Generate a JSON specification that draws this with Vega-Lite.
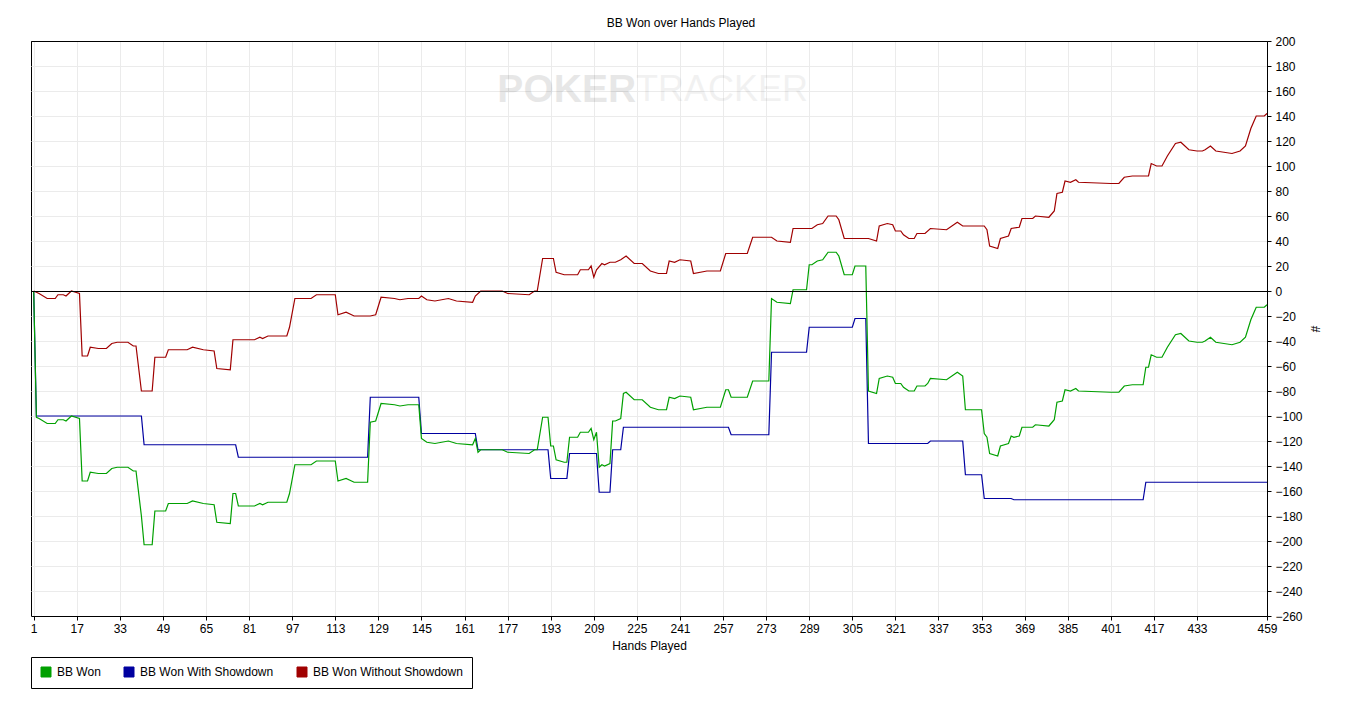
{
  "$schema": "https://vega.github.io/schema/vega-lite/v6.json",
  "width": 1236,
  "height": 575,
  "autosize": {"type": "none"},
  "padding": {"left": 31, "top": 41, "right": 84, "bottom": 91},
  "background": "white",
  "title": {
    "text": "BB Won over Hands Played",
    "fontSize": 12,
    "fontWeight": "normal",
    "font": "Liberation Sans",
    "color": "black",
    "anchor": "middle",
    "dx": 32,
    "offset": 5
  },
  "datasets": {
    "bb": [
      {"hand": 1, "series": "BB Won Without Showdown", "bb": 0},
      {"hand": 3, "series": "BB Won Without Showdown", "bb": -2},
      {"hand": 6, "series": "BB Won Without Showdown", "bb": -6},
      {"hand": 9, "series": "BB Won Without Showdown", "bb": -6},
      {"hand": 10, "series": "BB Won Without Showdown", "bb": -3},
      {"hand": 12, "series": "BB Won Without Showdown", "bb": -3},
      {"hand": 13, "series": "BB Won Without Showdown", "bb": -4},
      {"hand": 15, "series": "BB Won Without Showdown", "bb": 0},
      {"hand": 18, "series": "BB Won Without Showdown", "bb": -2},
      {"hand": 19, "series": "BB Won Without Showdown", "bb": -52},
      {"hand": 21, "series": "BB Won Without Showdown", "bb": -52},
      {"hand": 22, "series": "BB Won Without Showdown", "bb": -45},
      {"hand": 25, "series": "BB Won Without Showdown", "bb": -46},
      {"hand": 28, "series": "BB Won Without Showdown", "bb": -46},
      {"hand": 30, "series": "BB Won Without Showdown", "bb": -42},
      {"hand": 32, "series": "BB Won Without Showdown", "bb": -41},
      {"hand": 36, "series": "BB Won Without Showdown", "bb": -41},
      {"hand": 38, "series": "BB Won Without Showdown", "bb": -44},
      {"hand": 39, "series": "BB Won Without Showdown", "bb": -44},
      {"hand": 41, "series": "BB Won Without Showdown", "bb": -80},
      {"hand": 45, "series": "BB Won Without Showdown", "bb": -80},
      {"hand": 46, "series": "BB Won Without Showdown", "bb": -53},
      {"hand": 50, "series": "BB Won Without Showdown", "bb": -53},
      {"hand": 51, "series": "BB Won Without Showdown", "bb": -47},
      {"hand": 58, "series": "BB Won Without Showdown", "bb": -47},
      {"hand": 60, "series": "BB Won Without Showdown", "bb": -45},
      {"hand": 64, "series": "BB Won Without Showdown", "bb": -47},
      {"hand": 68, "series": "BB Won Without Showdown", "bb": -48},
      {"hand": 69, "series": "BB Won Without Showdown", "bb": -62},
      {"hand": 74, "series": "BB Won Without Showdown", "bb": -63},
      {"hand": 75, "series": "BB Won Without Showdown", "bb": -39},
      {"hand": 83, "series": "BB Won Without Showdown", "bb": -39},
      {"hand": 85, "series": "BB Won Without Showdown", "bb": -37},
      {"hand": 86, "series": "BB Won Without Showdown", "bb": -38},
      {"hand": 88, "series": "BB Won Without Showdown", "bb": -36},
      {"hand": 95, "series": "BB Won Without Showdown", "bb": -36},
      {"hand": 96, "series": "BB Won Without Showdown", "bb": -29},
      {"hand": 98, "series": "BB Won Without Showdown", "bb": -6},
      {"hand": 104, "series": "BB Won Without Showdown", "bb": -6},
      {"hand": 106, "series": "BB Won Without Showdown", "bb": -3},
      {"hand": 113, "series": "BB Won Without Showdown", "bb": -3},
      {"hand": 114, "series": "BB Won Without Showdown", "bb": -19},
      {"hand": 117, "series": "BB Won Without Showdown", "bb": -17},
      {"hand": 120, "series": "BB Won Without Showdown", "bb": -20},
      {"hand": 126, "series": "BB Won Without Showdown", "bb": -20},
      {"hand": 128, "series": "BB Won Without Showdown", "bb": -19},
      {"hand": 130, "series": "BB Won Without Showdown", "bb": -5},
      {"hand": 135, "series": "BB Won Without Showdown", "bb": -6},
      {"hand": 137, "series": "BB Won Without Showdown", "bb": -7},
      {"hand": 140, "series": "BB Won Without Showdown", "bb": -6},
      {"hand": 144, "series": "BB Won Without Showdown", "bb": -6},
      {"hand": 145, "series": "BB Won Without Showdown", "bb": -4},
      {"hand": 147, "series": "BB Won Without Showdown", "bb": -7},
      {"hand": 150, "series": "BB Won Without Showdown", "bb": -8},
      {"hand": 155, "series": "BB Won Without Showdown", "bb": -6},
      {"hand": 158, "series": "BB Won Without Showdown", "bb": -8},
      {"hand": 164, "series": "BB Won Without Showdown", "bb": -9},
      {"hand": 165, "series": "BB Won Without Showdown", "bb": -4},
      {"hand": 167, "series": "BB Won Without Showdown", "bb": 0},
      {"hand": 175, "series": "BB Won Without Showdown", "bb": 0},
      {"hand": 177, "series": "BB Won Without Showdown", "bb": -2},
      {"hand": 185, "series": "BB Won Without Showdown", "bb": -3},
      {"hand": 187, "series": "BB Won Without Showdown", "bb": 0},
      {"hand": 188, "series": "BB Won Without Showdown", "bb": 0},
      {"hand": 190, "series": "BB Won Without Showdown", "bb": 26},
      {"hand": 194, "series": "BB Won Without Showdown", "bb": 26},
      {"hand": 195, "series": "BB Won Without Showdown", "bb": 15},
      {"hand": 198, "series": "BB Won Without Showdown", "bb": 13},
      {"hand": 203, "series": "BB Won Without Showdown", "bb": 13},
      {"hand": 204, "series": "BB Won Without Showdown", "bb": 17},
      {"hand": 207, "series": "BB Won Without Showdown", "bb": 17},
      {"hand": 208, "series": "BB Won Without Showdown", "bb": 20},
      {"hand": 209, "series": "BB Won Without Showdown", "bb": 11},
      {"hand": 210, "series": "BB Won Without Showdown", "bb": 17},
      {"hand": 212, "series": "BB Won Without Showdown", "bb": 22},
      {"hand": 213, "series": "BB Won Without Showdown", "bb": 21},
      {"hand": 215, "series": "BB Won Without Showdown", "bb": 23},
      {"hand": 217, "series": "BB Won Without Showdown", "bb": 23},
      {"hand": 219, "series": "BB Won Without Showdown", "bb": 25},
      {"hand": 221, "series": "BB Won Without Showdown", "bb": 28},
      {"hand": 224, "series": "BB Won Without Showdown", "bb": 22},
      {"hand": 227, "series": "BB Won Without Showdown", "bb": 22},
      {"hand": 230, "series": "BB Won Without Showdown", "bb": 16},
      {"hand": 233, "series": "BB Won Without Showdown", "bb": 14},
      {"hand": 236, "series": "BB Won Without Showdown", "bb": 14},
      {"hand": 237, "series": "BB Won Without Showdown", "bb": 24},
      {"hand": 239, "series": "BB Won Without Showdown", "bb": 23},
      {"hand": 241, "series": "BB Won Without Showdown", "bb": 25},
      {"hand": 245, "series": "BB Won Without Showdown", "bb": 24},
      {"hand": 246, "series": "BB Won Without Showdown", "bb": 14},
      {"hand": 251, "series": "BB Won Without Showdown", "bb": 16},
      {"hand": 256, "series": "BB Won Without Showdown", "bb": 16},
      {"hand": 258, "series": "BB Won Without Showdown", "bb": 30},
      {"hand": 266, "series": "BB Won Without Showdown", "bb": 30},
      {"hand": 268, "series": "BB Won Without Showdown", "bb": 43},
      {"hand": 275, "series": "BB Won Without Showdown", "bb": 43},
      {"hand": 277, "series": "BB Won Without Showdown", "bb": 40},
      {"hand": 282, "series": "BB Won Without Showdown", "bb": 39},
      {"hand": 283, "series": "BB Won Without Showdown", "bb": 50},
      {"hand": 290, "series": "BB Won Without Showdown", "bb": 50},
      {"hand": 292, "series": "BB Won Without Showdown", "bb": 53},
      {"hand": 294, "series": "BB Won Without Showdown", "bb": 54},
      {"hand": 296, "series": "BB Won Without Showdown", "bb": 60},
      {"hand": 299, "series": "BB Won Without Showdown", "bb": 60},
      {"hand": 300, "series": "BB Won Without Showdown", "bb": 57},
      {"hand": 302, "series": "BB Won Without Showdown", "bb": 42},
      {"hand": 311, "series": "BB Won Without Showdown", "bb": 42},
      {"hand": 314, "series": "BB Won Without Showdown", "bb": 40},
      {"hand": 315, "series": "BB Won Without Showdown", "bb": 52},
      {"hand": 318, "series": "BB Won Without Showdown", "bb": 54},
      {"hand": 320, "series": "BB Won Without Showdown", "bb": 53},
      {"hand": 321, "series": "BB Won Without Showdown", "bb": 48},
      {"hand": 323, "series": "BB Won Without Showdown", "bb": 48},
      {"hand": 324, "series": "BB Won Without Showdown", "bb": 45},
      {"hand": 326, "series": "BB Won Without Showdown", "bb": 42},
      {"hand": 328, "series": "BB Won Without Showdown", "bb": 42},
      {"hand": 329, "series": "BB Won Without Showdown", "bb": 46},
      {"hand": 332, "series": "BB Won Without Showdown", "bb": 46},
      {"hand": 334, "series": "BB Won Without Showdown", "bb": 50},
      {"hand": 340, "series": "BB Won Without Showdown", "bb": 49},
      {"hand": 344, "series": "BB Won Without Showdown", "bb": 55},
      {"hand": 346, "series": "BB Won Without Showdown", "bb": 52},
      {"hand": 354, "series": "BB Won Without Showdown", "bb": 52},
      {"hand": 355, "series": "BB Won Without Showdown", "bb": 49},
      {"hand": 356, "series": "BB Won Without Showdown", "bb": 36},
      {"hand": 359, "series": "BB Won Without Showdown", "bb": 34},
      {"hand": 360, "series": "BB Won Without Showdown", "bb": 42},
      {"hand": 363, "series": "BB Won Without Showdown", "bb": 44},
      {"hand": 364, "series": "BB Won Without Showdown", "bb": 50},
      {"hand": 367, "series": "BB Won Without Showdown", "bb": 51},
      {"hand": 368, "series": "BB Won Without Showdown", "bb": 58},
      {"hand": 372, "series": "BB Won Without Showdown", "bb": 58},
      {"hand": 373, "series": "BB Won Without Showdown", "bb": 60},
      {"hand": 378, "series": "BB Won Without Showdown", "bb": 59},
      {"hand": 380, "series": "BB Won Without Showdown", "bb": 64},
      {"hand": 381, "series": "BB Won Without Showdown", "bb": 78},
      {"hand": 383, "series": "BB Won Without Showdown", "bb": 79},
      {"hand": 384, "series": "BB Won Without Showdown", "bb": 88},
      {"hand": 386, "series": "BB Won Without Showdown", "bb": 87},
      {"hand": 388, "series": "BB Won Without Showdown", "bb": 89},
      {"hand": 389, "series": "BB Won Without Showdown", "bb": 87},
      {"hand": 401, "series": "BB Won Without Showdown", "bb": 86},
      {"hand": 404, "series": "BB Won Without Showdown", "bb": 86},
      {"hand": 406, "series": "BB Won Without Showdown", "bb": 91},
      {"hand": 409, "series": "BB Won Without Showdown", "bb": 92},
      {"hand": 415, "series": "BB Won Without Showdown", "bb": 92},
      {"hand": 416, "series": "BB Won Without Showdown", "bb": 102},
      {"hand": 418, "series": "BB Won Without Showdown", "bb": 100},
      {"hand": 420, "series": "BB Won Without Showdown", "bb": 100},
      {"hand": 422, "series": "BB Won Without Showdown", "bb": 108},
      {"hand": 425, "series": "BB Won Without Showdown", "bb": 118},
      {"hand": 427, "series": "BB Won Without Showdown", "bb": 119},
      {"hand": 430, "series": "BB Won Without Showdown", "bb": 113},
      {"hand": 433, "series": "BB Won Without Showdown", "bb": 112},
      {"hand": 435, "series": "BB Won Without Showdown", "bb": 112},
      {"hand": 436, "series": "BB Won Without Showdown", "bb": 113},
      {"hand": 438, "series": "BB Won Without Showdown", "bb": 116},
      {"hand": 440, "series": "BB Won Without Showdown", "bb": 112},
      {"hand": 443, "series": "BB Won Without Showdown", "bb": 111},
      {"hand": 446, "series": "BB Won Without Showdown", "bb": 110},
      {"hand": 449, "series": "BB Won Without Showdown", "bb": 112},
      {"hand": 451, "series": "BB Won Without Showdown", "bb": 116},
      {"hand": 453, "series": "BB Won Without Showdown", "bb": 130},
      {"hand": 454, "series": "BB Won Without Showdown", "bb": 135},
      {"hand": 455, "series": "BB Won Without Showdown", "bb": 140},
      {"hand": 458, "series": "BB Won Without Showdown", "bb": 140},
      {"hand": 459, "series": "BB Won Without Showdown", "bb": 142},

      {"hand": 1, "series": "BB Won With Showdown", "bb": 0},
      {"hand": 2, "series": "BB Won With Showdown", "bb": -100},
      {"hand": 41, "series": "BB Won With Showdown", "bb": -100},
      {"hand": 42, "series": "BB Won With Showdown", "bb": -123},
      {"hand": 76, "series": "BB Won With Showdown", "bb": -123},
      {"hand": 77, "series": "BB Won With Showdown", "bb": -133},
      {"hand": 125, "series": "BB Won With Showdown", "bb": -133},
      {"hand": 126, "series": "BB Won With Showdown", "bb": -85},
      {"hand": 144, "series": "BB Won With Showdown", "bb": -85},
      {"hand": 145, "series": "BB Won With Showdown", "bb": -114},
      {"hand": 165, "series": "BB Won With Showdown", "bb": -114},
      {"hand": 166, "series": "BB Won With Showdown", "bb": -127},
      {"hand": 192, "series": "BB Won With Showdown", "bb": -127},
      {"hand": 193, "series": "BB Won With Showdown", "bb": -150},
      {"hand": 199, "series": "BB Won With Showdown", "bb": -150},
      {"hand": 200, "series": "BB Won With Showdown", "bb": -130},
      {"hand": 210, "series": "BB Won With Showdown", "bb": -130},
      {"hand": 211, "series": "BB Won With Showdown", "bb": -161},
      {"hand": 215, "series": "BB Won With Showdown", "bb": -161},
      {"hand": 216, "series": "BB Won With Showdown", "bb": -127},
      {"hand": 219, "series": "BB Won With Showdown", "bb": -127},
      {"hand": 220, "series": "BB Won With Showdown", "bb": -109},
      {"hand": 259, "series": "BB Won With Showdown", "bb": -109},
      {"hand": 260, "series": "BB Won With Showdown", "bb": -115},
      {"hand": 274, "series": "BB Won With Showdown", "bb": -115},
      {"hand": 275, "series": "BB Won With Showdown", "bb": -49},
      {"hand": 288, "series": "BB Won With Showdown", "bb": -49},
      {"hand": 289, "series": "BB Won With Showdown", "bb": -29},
      {"hand": 305, "series": "BB Won With Showdown", "bb": -29},
      {"hand": 306, "series": "BB Won With Showdown", "bb": -22},
      {"hand": 310, "series": "BB Won With Showdown", "bb": -22},
      {"hand": 311, "series": "BB Won With Showdown", "bb": -122},
      {"hand": 333, "series": "BB Won With Showdown", "bb": -122},
      {"hand": 334, "series": "BB Won With Showdown", "bb": -120},
      {"hand": 346, "series": "BB Won With Showdown", "bb": -120},
      {"hand": 347, "series": "BB Won With Showdown", "bb": -147},
      {"hand": 353, "series": "BB Won With Showdown", "bb": -147},
      {"hand": 354, "series": "BB Won With Showdown", "bb": -166},
      {"hand": 364, "series": "BB Won With Showdown", "bb": -166},
      {"hand": 365, "series": "BB Won With Showdown", "bb": -167},
      {"hand": 413, "series": "BB Won With Showdown", "bb": -167},
      {"hand": 414, "series": "BB Won With Showdown", "bb": -153},
      {"hand": 459, "series": "BB Won With Showdown", "bb": -153},

      {"hand": 1, "series": "BB Won", "bb": 0},
      {"hand": 2, "series": "BB Won", "bb": -101},
      {"hand": 3, "series": "BB Won", "bb": -102},
      {"hand": 6, "series": "BB Won", "bb": -106},
      {"hand": 9, "series": "BB Won", "bb": -106},
      {"hand": 10, "series": "BB Won", "bb": -103},
      {"hand": 12, "series": "BB Won", "bb": -103},
      {"hand": 13, "series": "BB Won", "bb": -104},
      {"hand": 15, "series": "BB Won", "bb": -100},
      {"hand": 18, "series": "BB Won", "bb": -102},
      {"hand": 19, "series": "BB Won", "bb": -152},
      {"hand": 21, "series": "BB Won", "bb": -152},
      {"hand": 22, "series": "BB Won", "bb": -145},
      {"hand": 25, "series": "BB Won", "bb": -146},
      {"hand": 28, "series": "BB Won", "bb": -146},
      {"hand": 30, "series": "BB Won", "bb": -142},
      {"hand": 32, "series": "BB Won", "bb": -141},
      {"hand": 36, "series": "BB Won", "bb": -141},
      {"hand": 38, "series": "BB Won", "bb": -144},
      {"hand": 39, "series": "BB Won", "bb": -144},
      {"hand": 41, "series": "BB Won", "bb": -180},
      {"hand": 42, "series": "BB Won", "bb": -203},
      {"hand": 45, "series": "BB Won", "bb": -203},
      {"hand": 46, "series": "BB Won", "bb": -176},
      {"hand": 50, "series": "BB Won", "bb": -176},
      {"hand": 51, "series": "BB Won", "bb": -170},
      {"hand": 58, "series": "BB Won", "bb": -170},
      {"hand": 60, "series": "BB Won", "bb": -168},
      {"hand": 64, "series": "BB Won", "bb": -170},
      {"hand": 68, "series": "BB Won", "bb": -171},
      {"hand": 69, "series": "BB Won", "bb": -185},
      {"hand": 74, "series": "BB Won", "bb": -186},
      {"hand": 75, "series": "BB Won", "bb": -162},
      {"hand": 76, "series": "BB Won", "bb": -162},
      {"hand": 77, "series": "BB Won", "bb": -172},
      {"hand": 83, "series": "BB Won", "bb": -172},
      {"hand": 85, "series": "BB Won", "bb": -170},
      {"hand": 86, "series": "BB Won", "bb": -171},
      {"hand": 88, "series": "BB Won", "bb": -169},
      {"hand": 95, "series": "BB Won", "bb": -169},
      {"hand": 96, "series": "BB Won", "bb": -162},
      {"hand": 98, "series": "BB Won", "bb": -139},
      {"hand": 104, "series": "BB Won", "bb": -139},
      {"hand": 106, "series": "BB Won", "bb": -136},
      {"hand": 113, "series": "BB Won", "bb": -136},
      {"hand": 114, "series": "BB Won", "bb": -152},
      {"hand": 117, "series": "BB Won", "bb": -150},
      {"hand": 120, "series": "BB Won", "bb": -153},
      {"hand": 125, "series": "BB Won", "bb": -153},
      {"hand": 126, "series": "BB Won", "bb": -105},
      {"hand": 128, "series": "BB Won", "bb": -104},
      {"hand": 130, "series": "BB Won", "bb": -90},
      {"hand": 135, "series": "BB Won", "bb": -91},
      {"hand": 137, "series": "BB Won", "bb": -92},
      {"hand": 140, "series": "BB Won", "bb": -91},
      {"hand": 144, "series": "BB Won", "bb": -91},
      {"hand": 145, "series": "BB Won", "bb": -118},
      {"hand": 147, "series": "BB Won", "bb": -121},
      {"hand": 150, "series": "BB Won", "bb": -122},
      {"hand": 155, "series": "BB Won", "bb": -120},
      {"hand": 158, "series": "BB Won", "bb": -122},
      {"hand": 164, "series": "BB Won", "bb": -123},
      {"hand": 165, "series": "BB Won", "bb": -118},
      {"hand": 166, "series": "BB Won", "bb": -129},
      {"hand": 167, "series": "BB Won", "bb": -127},
      {"hand": 175, "series": "BB Won", "bb": -127},
      {"hand": 177, "series": "BB Won", "bb": -129},
      {"hand": 185, "series": "BB Won", "bb": -130},
      {"hand": 187, "series": "BB Won", "bb": -127},
      {"hand": 188, "series": "BB Won", "bb": -127},
      {"hand": 190, "series": "BB Won", "bb": -101},
      {"hand": 192, "series": "BB Won", "bb": -101},
      {"hand": 193, "series": "BB Won", "bb": -124},
      {"hand": 194, "series": "BB Won", "bb": -124},
      {"hand": 195, "series": "BB Won", "bb": -135},
      {"hand": 198, "series": "BB Won", "bb": -137},
      {"hand": 199, "series": "BB Won", "bb": -137},
      {"hand": 200, "series": "BB Won", "bb": -117},
      {"hand": 203, "series": "BB Won", "bb": -117},
      {"hand": 204, "series": "BB Won", "bb": -113},
      {"hand": 207, "series": "BB Won", "bb": -113},
      {"hand": 208, "series": "BB Won", "bb": -110},
      {"hand": 209, "series": "BB Won", "bb": -119},
      {"hand": 210, "series": "BB Won", "bb": -113},
      {"hand": 211, "series": "BB Won", "bb": -141},
      {"hand": 212, "series": "BB Won", "bb": -139},
      {"hand": 213, "series": "BB Won", "bb": -140},
      {"hand": 215, "series": "BB Won", "bb": -138},
      {"hand": 216, "series": "BB Won", "bb": -104},
      {"hand": 217, "series": "BB Won", "bb": -104},
      {"hand": 219, "series": "BB Won", "bb": -102},
      {"hand": 220, "series": "BB Won", "bb": -82},
      {"hand": 221, "series": "BB Won", "bb": -81},
      {"hand": 224, "series": "BB Won", "bb": -87},
      {"hand": 227, "series": "BB Won", "bb": -87},
      {"hand": 230, "series": "BB Won", "bb": -93},
      {"hand": 233, "series": "BB Won", "bb": -95},
      {"hand": 236, "series": "BB Won", "bb": -95},
      {"hand": 237, "series": "BB Won", "bb": -85},
      {"hand": 239, "series": "BB Won", "bb": -86},
      {"hand": 241, "series": "BB Won", "bb": -84},
      {"hand": 245, "series": "BB Won", "bb": -85},
      {"hand": 246, "series": "BB Won", "bb": -95},
      {"hand": 251, "series": "BB Won", "bb": -93},
      {"hand": 256, "series": "BB Won", "bb": -93},
      {"hand": 258, "series": "BB Won", "bb": -79},
      {"hand": 259, "series": "BB Won", "bb": -79},
      {"hand": 260, "series": "BB Won", "bb": -85},
      {"hand": 266, "series": "BB Won", "bb": -85},
      {"hand": 268, "series": "BB Won", "bb": -72},
      {"hand": 274, "series": "BB Won", "bb": -72},
      {"hand": 275, "series": "BB Won", "bb": -6},
      {"hand": 277, "series": "BB Won", "bb": -9},
      {"hand": 282, "series": "BB Won", "bb": -10},
      {"hand": 283, "series": "BB Won", "bb": 1},
      {"hand": 288, "series": "BB Won", "bb": 1},
      {"hand": 289, "series": "BB Won", "bb": 21},
      {"hand": 290, "series": "BB Won", "bb": 21},
      {"hand": 292, "series": "BB Won", "bb": 24},
      {"hand": 294, "series": "BB Won", "bb": 25},
      {"hand": 296, "series": "BB Won", "bb": 31},
      {"hand": 299, "series": "BB Won", "bb": 31},
      {"hand": 300, "series": "BB Won", "bb": 28},
      {"hand": 302, "series": "BB Won", "bb": 13},
      {"hand": 305, "series": "BB Won", "bb": 13},
      {"hand": 306, "series": "BB Won", "bb": 20},
      {"hand": 310, "series": "BB Won", "bb": 20},
      {"hand": 311, "series": "BB Won", "bb": -80},
      {"hand": 314, "series": "BB Won", "bb": -82},
      {"hand": 315, "series": "BB Won", "bb": -70},
      {"hand": 318, "series": "BB Won", "bb": -68},
      {"hand": 320, "series": "BB Won", "bb": -69},
      {"hand": 321, "series": "BB Won", "bb": -74},
      {"hand": 323, "series": "BB Won", "bb": -74},
      {"hand": 324, "series": "BB Won", "bb": -77},
      {"hand": 326, "series": "BB Won", "bb": -80},
      {"hand": 328, "series": "BB Won", "bb": -80},
      {"hand": 329, "series": "BB Won", "bb": -76},
      {"hand": 332, "series": "BB Won", "bb": -76},
      {"hand": 333, "series": "BB Won", "bb": -74},
      {"hand": 334, "series": "BB Won", "bb": -70},
      {"hand": 340, "series": "BB Won", "bb": -71},
      {"hand": 344, "series": "BB Won", "bb": -65},
      {"hand": 346, "series": "BB Won", "bb": -68},
      {"hand": 347, "series": "BB Won", "bb": -95},
      {"hand": 353, "series": "BB Won", "bb": -95},
      {"hand": 354, "series": "BB Won", "bb": -114},
      {"hand": 355, "series": "BB Won", "bb": -117},
      {"hand": 356, "series": "BB Won", "bb": -130},
      {"hand": 359, "series": "BB Won", "bb": -132},
      {"hand": 360, "series": "BB Won", "bb": -124},
      {"hand": 363, "series": "BB Won", "bb": -122},
      {"hand": 364, "series": "BB Won", "bb": -116},
      {"hand": 365, "series": "BB Won", "bb": -117},
      {"hand": 367, "series": "BB Won", "bb": -116},
      {"hand": 368, "series": "BB Won", "bb": -109},
      {"hand": 372, "series": "BB Won", "bb": -109},
      {"hand": 373, "series": "BB Won", "bb": -107},
      {"hand": 378, "series": "BB Won", "bb": -108},
      {"hand": 380, "series": "BB Won", "bb": -103},
      {"hand": 381, "series": "BB Won", "bb": -89},
      {"hand": 383, "series": "BB Won", "bb": -88},
      {"hand": 384, "series": "BB Won", "bb": -79},
      {"hand": 386, "series": "BB Won", "bb": -80},
      {"hand": 388, "series": "BB Won", "bb": -78},
      {"hand": 389, "series": "BB Won", "bb": -80},
      {"hand": 401, "series": "BB Won", "bb": -81},
      {"hand": 404, "series": "BB Won", "bb": -81},
      {"hand": 406, "series": "BB Won", "bb": -76},
      {"hand": 409, "series": "BB Won", "bb": -75},
      {"hand": 413, "series": "BB Won", "bb": -75},
      {"hand": 414, "series": "BB Won", "bb": -61},
      {"hand": 415, "series": "BB Won", "bb": -61},
      {"hand": 416, "series": "BB Won", "bb": -51},
      {"hand": 418, "series": "BB Won", "bb": -53},
      {"hand": 420, "series": "BB Won", "bb": -53},
      {"hand": 422, "series": "BB Won", "bb": -45},
      {"hand": 425, "series": "BB Won", "bb": -35},
      {"hand": 427, "series": "BB Won", "bb": -34},
      {"hand": 430, "series": "BB Won", "bb": -40},
      {"hand": 433, "series": "BB Won", "bb": -41},
      {"hand": 435, "series": "BB Won", "bb": -41},
      {"hand": 436, "series": "BB Won", "bb": -40},
      {"hand": 438, "series": "BB Won", "bb": -37},
      {"hand": 440, "series": "BB Won", "bb": -41},
      {"hand": 443, "series": "BB Won", "bb": -42},
      {"hand": 446, "series": "BB Won", "bb": -43},
      {"hand": 449, "series": "BB Won", "bb": -41},
      {"hand": 451, "series": "BB Won", "bb": -37},
      {"hand": 453, "series": "BB Won", "bb": -23},
      {"hand": 454, "series": "BB Won", "bb": -18},
      {"hand": 455, "series": "BB Won", "bb": -13},
      {"hand": 458, "series": "BB Won", "bb": -13},
      {"hand": 459, "series": "BB Won", "bb": -11}
    ]
  },
  "layer": [
    {
      "data": {"name": "bb"},
      "mark": {"type": "line", "strokeWidth": 1.2},
      "encoding": {
        "x": {
          "field": "hand",
          "type": "quantitative",
          "scale": {"domain": [0, 459], "nice": false, "zero": false},
          "axis": {
            "title": "Hands Played",
            "values": [1, 17, 33, 49, 65, 81, 97, 113, 129, 145, 161, 177, 193, 209, 225, 241, 257, 273, 289, 305, 321, 337, 353, 369, 385, 401, 417, 433, 459],
            "tickCount": 60,
            "labelPadding": 3,
            "titlePadding": 6
          }
        },
        "y": {
          "field": "bb",
          "type": "quantitative",
          "scale": {"domain": [-260, 200], "nice": false, "zero": false},
          "axis": {
            "orient": "right",
            "title": "#",
            "values": [-260, -240, -220, -200, -180, -160, -140, -120, -100, -80, -60, -40, -20, 0, 20, 40, 60, 80, 100, 120, 140, 160, 180, 200],
            "tickCount": 60,
            "gridColor": {"condition": {"test": "datum.value === 200", "value": "black"}, "value": "#ebebeb"},
            "labelPadding": 4,
            "titlePadding": 5
          }
        },
        "color": {
          "field": "series",
          "type": "nominal",
          "scale": {
            "domain": ["BB Won", "BB Won With Showdown", "BB Won Without Showdown"],
            "range": ["#00a000", "#0000a0", "#a00000"]
          },
          "legend": {
            "title": null,
            "encode": {
              "symbols": {
                "update": {
                  "fill": {"scale": "color", "field": "value"},
                  "stroke": {"value": "black"},
                  "strokeWidth": {"value": 1},
                  "opacity": {"value": 1}
                }
              }
            }
          }
        }
      }
    },
    {
      "data": {"values": [{}]},
      "mark": {
        "type": "text",
        "text": "POKER",
        "align": "right",
        "baseline": "middle",
        "font": "Liberation Sans",
        "fontWeight": "bold",
        "fontSize": 39,
        "fill": "black",
        "opacity": 0.09
      },
      "encoding": {
        "x": {"datum": 224.7, "type": "quantitative"},
        "y": {"datum": 160.8, "type": "quantitative"}
      }
    },
    {
      "data": {"values": [{}]},
      "mark": {
        "type": "text",
        "text": "TRACKER",
        "align": "left",
        "baseline": "middle",
        "font": "Liberation Sans",
        "fontSize": 36,
        "fill": "black",
        "opacity": 0.05
      },
      "encoding": {
        "x": {"datum": 224.7, "type": "quantitative"},
        "y": {"datum": 160.8, "type": "quantitative"}
      }
    },
    {
      "data": {"values": [{}]},
      "mark": {"type": "rule", "color": "black", "strokeWidth": 1, "yOffset": 0.5},
      "encoding": {
        "y": {"datum": 0, "type": "quantitative"}
      }
    }
  ],
  "config": {
    "font": "Liberation Sans",
    "view": {"stroke": "black", "strokeWidth": 1},
    "axis": {
      "labelFont": "Liberation Sans",
      "titleFont": "Liberation Sans",
      "labelFontSize": 12,
      "titleFontSize": 12,
      "titleFontWeight": "normal",
      "labelColor": "black",
      "titleColor": "black",
      "domainColor": "black",
      "tickColor": "black",
      "tickSize": 4,
      "labelOverlap": false,
      "labelFlush": false,
      "labelBound": false,
      "grid": true,
      "gridColor": "#ebebeb",
      "gridWidth": 1
    },
    "legend": {
      "orient": "none",
      "legendX": 0,
      "legendY": 616,
      "direction": "horizontal",
      "strokeColor": "black",
      "fillColor": "white",
      "padding": 9,
      "symbolType": "square",
      "symbolSize": 100,
      "symbolStrokeWidth": 1,
      "labelFont": "Liberation Sans",
      "labelFontSize": 12,
      "labelColor": "black",
      "labelOffset": 5,
      "columnPadding": 21
    }
  }
}
